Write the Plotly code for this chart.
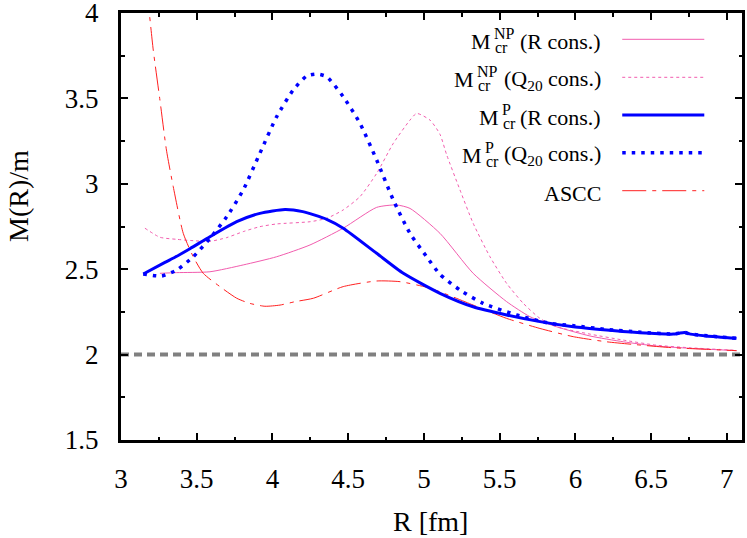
import plotly.graph_objects as go

# ---------------- data ----------------
R_NP_R = [3.257, 3.367, 3.587, 3.807, 4.028, 4.248, 4.467, 4.688, 4.82, 4.908, 5.106, 5.325, 5.546, 5.70, 5.876, 6.096, 6.316, 6.536, 6.756, 7.064]
M_NP_R = [2.476, 2.48, 2.485, 2.525, 2.573, 2.642, 2.74, 2.862, 2.876, 2.856, 2.71, 2.476, 2.31, 2.222, 2.163, 2.109, 2.075, 2.05, 2.037, 2.023]

R_NP_Q = [3.158, 3.257, 3.367, 3.477, 3.587, 3.698, 3.807, 3.917, 4.028, 4.248, 4.358, 4.467, 4.578, 4.688, 4.798, 4.908, 4.952, 5.04, 5.106, 5.15, 5.238, 5.325, 5.436, 5.546, 5.656, 5.766, 5.876, 6.096, 6.316, 6.536, 6.756, 7.064]
M_NP_Q = [2.74, 2.687, 2.675, 2.667, 2.663, 2.685, 2.72, 2.749, 2.765, 2.778, 2.798, 2.847, 2.925, 3.061, 3.237, 3.373, 3.412, 3.373, 3.29, 3.17, 2.964, 2.769, 2.573, 2.417, 2.30, 2.212, 2.163, 2.12, 2.085, 2.055, 2.04, 2.025]

R_P_R = [3.147, 3.29, 3.356, 3.455, 3.587, 3.764, 3.917, 4.083, 4.20, 4.358, 4.467, 4.688, 4.864, 5.106, 5.325, 5.546, 5.766, 5.986, 6.206, 6.426, 6.646, 6.68, 6.72, 6.76, 6.866, 7.064]
M_P_R = [2.472, 2.54, 2.57, 2.62, 2.69, 2.778, 2.827, 2.85, 2.837, 2.792, 2.74, 2.593, 2.476, 2.359, 2.28, 2.232, 2.193, 2.163, 2.144, 2.128, 2.12, 2.124, 2.13, 2.12, 2.109, 2.095]

R_P_Q = [3.147, 3.268, 3.367, 3.477, 3.587, 3.698, 3.807, 3.917, 4.028, 4.137, 4.226, 4.292, 4.358, 4.467, 4.578, 4.688, 4.798, 4.908, 5.018, 5.106, 5.238, 5.391, 5.612, 5.832, 6.0, 6.2, 6.43, 6.65, 6.68, 6.72, 6.76, 6.87, 7.064]
M_P_Q = [2.472, 2.46, 2.495, 2.573, 2.68, 2.807, 2.964, 3.179, 3.393, 3.549, 3.631, 3.643, 3.627, 3.51, 3.354, 3.139, 2.905, 2.71, 2.573, 2.47, 2.378, 2.30, 2.232, 2.183, 2.168, 2.148, 2.131, 2.121, 2.125, 2.13, 2.12, 2.11, 2.095]

R_ASCC = [3.17, 3.187, 3.213, 3.257, 3.30, 3.345, 3.411, 3.477, 3.543, 3.653, 3.764, 3.85, 3.95, 4.05, 4.15, 4.27, 4.467, 4.688, 4.842, 5.018, 5.106, 5.325, 5.546, 5.766, 5.986, 6.206, 6.426, 6.646, 6.866, 7.064]
M_ASCC = [4.15, 4.0, 3.783, 3.49, 3.198, 2.983, 2.71, 2.573, 2.476, 2.398, 2.33, 2.30, 2.283, 2.29, 2.31, 2.33, 2.398, 2.431, 2.427, 2.394, 2.368, 2.29, 2.212, 2.153, 2.105, 2.075, 2.056, 2.04, 2.031, 2.023]

R_LIMIT = [3.0, 7.1]
M_LIMIT = [2.0, 2.0]

X_TICKS = [3, 3.5, 4, 4.5, 5, 5.5, 6, 6.5, 7]
Y_TICKS = [1.5, 2, 2.5, 3, 3.5, 4]

PINK = "#f25cae"
BLUE = "#0000ff"
RED = "#ff2020"
FONT = "Liberation Serif, Tinos, Times New Roman, DejaVu Serif, serif"

W, H = 747, 538
L, T = 121, 13
R_ = W - 741.7
B = H - 440
PW, PH = W - L - R_, H - T - B

def px(xp):
    return (xp - L) / PW

def py(yp):
    return (H - B - yp) / PH

fig = go.Figure()
fig.add_trace(go.Scatter(x=R_LIMIT, y=M_LIMIT, mode="lines",
                         line=dict(color="#808080", width=4, dash="8px,5px"), showlegend=False))
fig.add_trace(go.Scatter(x=R_NP_R, y=M_NP_R, mode="lines",
                         line=dict(color=PINK, width=1, shape="spline", smoothing=0.6), showlegend=False))
fig.add_trace(go.Scatter(x=R_NP_Q, y=M_NP_Q, mode="lines",
                         line=dict(color=PINK, width=1, dash="3px,3px", shape="spline", smoothing=0.6), showlegend=False))
fig.add_trace(go.Scatter(x=R_ASCC, y=M_ASCC, mode="lines",
                         line=dict(color=RED, width=1, dash="24px,6px,4px,6px", shape="spline", smoothing=0.6), showlegend=False))
fig.add_trace(go.Scatter(x=R_P_R, y=M_P_R, mode="lines",
                         line=dict(color=BLUE, width=3, shape="spline", smoothing=0.6), showlegend=False))
fig.add_trace(go.Scatter(x=R_P_Q, y=M_P_Q, mode="lines",
                         line=dict(color=BLUE, width=3.5, dash="3.5px,6px", shape="spline", smoothing=0.6), showlegend=False))

# ---------------- manual gnuplot-style legend ----------------
leg_y = [39.3, 77.3, 115.0, 152.7, 190.7]
leg_styles = [
    dict(color=PINK, width=1),
    dict(color=PINK, width=1, dash="3px,3px"),
    dict(color=BLUE, width=3),
    dict(color=BLUE, width=3.5, dash="3.5px,6px"),
    dict(color=RED, width=1, dash="24px,6px,4px,6px"),
]
leg_rest = ["(R cons.)", "(Q<sub>20</sub> cons.)", "(R cons.)", "(Q<sub>20</sub> cons.)", "ASCC"]
leg_sup = ["NP", "NP", "P", "P", None]
leg_mright = [493, 476, 501, 484, None]
FS = 22
SFS = 16
shapes = []
annotations = []
for i, yl in enumerate(leg_y):
    shapes.append(dict(type="line", xref="paper", yref="paper",
                       x0=px(622), x1=px(704), y0=py(yl), y1=py(yl), line=leg_styles[i]))
    annotations.append(dict(xref="paper", yref="paper", x=px(603), y=py(yl + 2.5),
                            xanchor="right", yanchor="middle", showarrow=False,
                            text=leg_rest[i], font=dict(family=FONT, size=FS, color="black")))
    if leg_sup[i]:
        mr = leg_mright[i]
        annotations.append(dict(xref="paper", yref="paper", x=px(mr), y=py(yl + 2.5),
                                xanchor="right", yanchor="middle", showarrow=False,
                                text="M", font=dict(family=FONT, size=FS, color="black")))
        annotations.append(dict(xref="paper", yref="paper", x=px(mr - 1), y=py(yl - 5.5),
                                xanchor="left", yanchor="middle", showarrow=False,
                                text=leg_sup[i], font=dict(family=FONT, size=SFS, color="black")))
        annotations.append(dict(xref="paper", yref="paper", x=px(mr - 0.5), y=py(yl + 8.5),
                                xanchor="left", yanchor="middle", showarrow=False,
                                text="cr", font=dict(family=FONT, size=SFS, color="black")))

# axis titles
annotations.append(dict(xref="paper", yref="paper", x=px(430), y=py(521), xanchor="center",
                        yanchor="middle", showarrow=False, text="R [fm]",
                        font=dict(family=FONT, size=28, color="black")))
annotations.append(dict(xref="paper", yref="paper", x=px(18), y=py(196), xanchor="center",
                        yanchor="middle", showarrow=False, text="M(R)/m", textangle=-90,
                        font=dict(family=FONT, size=28, color="black")))

axis_common = dict(showgrid=False, zeroline=False, showline=True, linecolor="black", linewidth=3,
                   mirror="ticks", ticks="inside", ticklen=7, tickwidth=2, tickcolor="black",
                   ticklabeloverflow="allow",
                   tickfont=dict(family=FONT, size=27, color="black"))

fig.update_layout(
    width=W, height=H,
    margin=dict(l=L, r=R_, t=T, b=B, autoexpand=False),
    paper_bgcolor="white", plot_bgcolor="white",
    showlegend=False,
    shapes=shapes,
    annotations=annotations,
    xaxis=dict(range=[3, 7.1], tickvals=X_TICKS, ticktext=[f"{v:g}" for v in X_TICKS],
               ticklabelstandoff=13,
               minor=dict(dtick=0.25, tick0=3, ticks="inside", ticklen=3.5, tickwidth=2, tickcolor="black"),
               **axis_common),
    yaxis=dict(range=[1.5, 4], tickvals=Y_TICKS, ticktext=[f"{v:g}" for v in Y_TICKS],
               ticklabelstandoff=14,
               minor=dict(dtick=0.25, tick0=1.5, ticks="inside", ticklen=3.5, tickwidth=2, tickcolor="black"),
               **axis_common),
)

fig.write_html("out.html", config={"displayModeBar": False},
               post_script="document.body.style.margin='0';")
